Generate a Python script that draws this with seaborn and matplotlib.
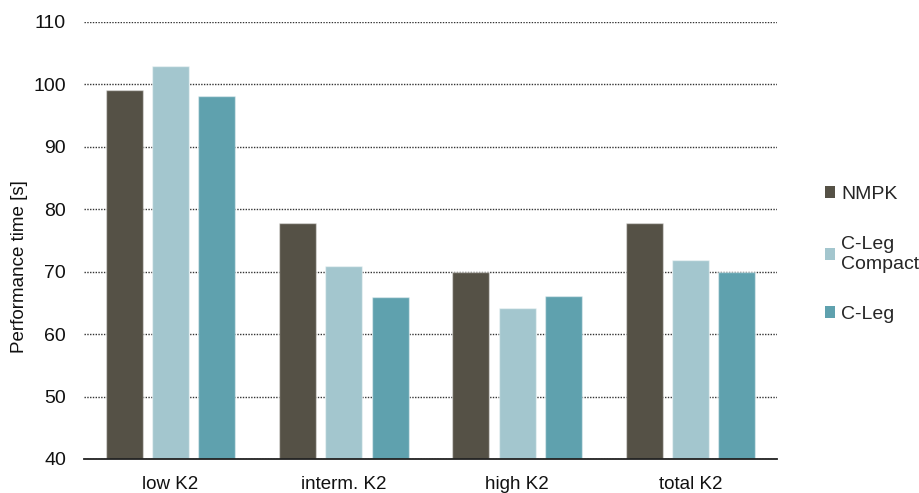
import matplotlib
matplotlib.use("Agg")
import matplotlib.pyplot as plt
from matplotlib.patches import Patch
import seaborn as sns
import pandas as pd

categories = ["low K2", "interm. K2", "high K2", "total K2"]
series = ["NMPK", "C-Leg\nCompact", "C-Leg"]
nmpk = [99.1, 77.8, 70.0, 77.8]
cleg_compact = [103.0, 70.9, 64.2, 71.9]
cleg = [98.1, 65.9, 66.1, 70.0]
colors = ["#555146", "#a3c6ce", "#5fa1ae"]
yticks = [40, 50, 60, 70, 80, 90, 100, 110]

rows = []
for name, vals in zip(series, [nmpk, cleg_compact, cleg]):
    for c, v in zip(categories, vals):
        rows.append({"category": c, "series": name, "value": v})
df = pd.DataFrame(rows)

sns.set_style("white")
plt.rcParams["font.family"] = ["Liberation Sans", "DejaVu Sans"]

fig = plt.figure(figsize=(9.2, 4.93), dpi=100)
ax = fig.add_axes([84 / 920, 1 - 459 / 493, (777 - 84) / 920, (459 - 22) / 493])

sns.barplot(data=df, x="category", y="value", hue="series", order=categories,
            hue_order=series, palette=colors, saturation=1, width=0.8, gap=0.2,
            edgecolor=(1, 1, 1, 0.45), linewidth=1.0, ax=ax, legend=False,
            errorbar=None)

ax.set_ylim(40, 110)
ax.set_xlim(-0.5, 3.5)
ax.set_yticks(yticks)
ax.set_yticklabels([str(t) for t in yticks])
ax.yaxis.grid(True, linestyle=(0, (1, 1)), color="#333333", linewidth=1.0)
ax.set_axisbelow(True)
for s in ["top", "right", "left"]:
    ax.spines[s].set_visible(False)
ax.spines["bottom"].set_color("#222222")
ax.spines["bottom"].set_linewidth(1.3)
ax.tick_params(axis="both", length=0, colors="#111111")
ax.tick_params(axis="y", pad=13, labelsize=14)
ax.tick_params(axis="x", pad=12.5, labelsize=13.5)
ax.set_xlabel("")
ax.set_ylabel("Performance time [s]", fontsize=13.5, color="#111111")
ax.yaxis.set_label_coords(-0.0808, 0.44)

handles = [Patch(facecolor=c, edgecolor="none") for c in colors]
fig.legend(handles, series, loc="center left", bbox_to_anchor=(0.888, 0.484),
           frameon=False, fontsize=14, handlelength=0.55, handleheight=0.55,
           handletextpad=0.3, labelspacing=1.7, borderaxespad=0)

fig.savefig("out.png", dpi=100)
